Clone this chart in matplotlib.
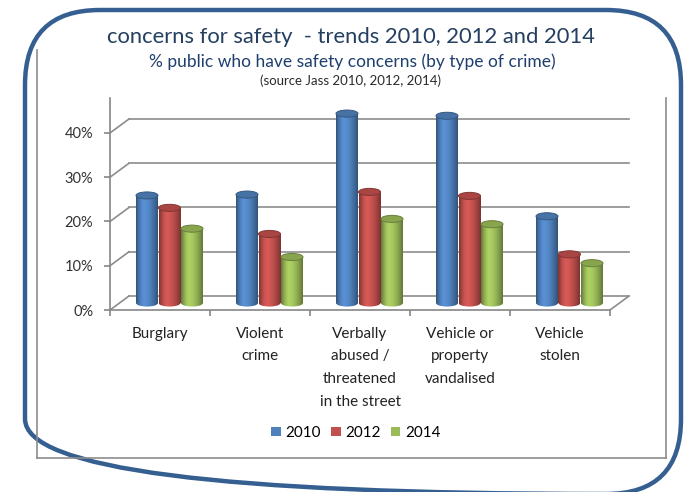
import numpy as np
import matplotlib
matplotlib.use("Agg")
import matplotlib.pyplot as plt
from matplotlib.patches import Ellipse, Patch, FancyBboxPatch

plt.rcParams['font.family'] = ['Lato', 'DejaVu Sans']

categories = ["Burglary", "Violent\ncrime", "Verbally\nabused /\nthreatened\nin the street",
              "Vehicle or\nproperty\nvandalised", "Vehicle\nstolen"]
years = ["2010", "2012", "2014"]
pct_2010 = [24.3, 24.5, 42.8, 42.3, 19.6]
pct_2012 = [21.5, 15.6, 25.1, 24.2, 11.0]
pct_2014 = [16.8, 10.4, 19.0, 17.8, 9.0]
yticks = [0, 10, 20, 30, 40]
colors = ["#4F81BD", "#C0504D", "#9BBB59"]

W, H = 684, 492
DX, DY = 0.19, 3.16      # depth offset of the back wall (x in categories, y in %)
BW = 0.22                # cylinder width
EH = 1.6                 # height of cylinder end ellipses, in %
YTOP = 47.9

fig = plt.figure(figsize=(W / 100, H / 100), dpi=100)
fig.patch.set_facecolor("white")

# full-figure axes in pixel units for the frame and titles
bg = fig.add_axes([0, 0, 1, 1])
bg.set_xlim(0, W)
bg.set_ylim(H, 0)
bg.axis("off")
frame = FancyBboxPatch((25, 10), 656, 484, boxstyle="round,pad=0,rounding_size=75",
                       fc="none", ec="#355E91", lw=3.2, clip_on=False)
bg.add_patch(frame)
gray = "#8C8C8C"
bg.plot([37, 37], [50, 458], color=gray, lw=1.2)
bg.plot([37, 666], [458, 458], color=gray, lw=1.2)
bg.plot([666, 666], [98, 458], color=gray, lw=1.2)

bg.text(351, 37, "concerns for safety  - trends 2010, 2012 and 2014", ha="center", va="center",
        fontsize=15.8, color="#243F60")
bg.text(352, 62, "% public who have safety concerns (by type of crime)", ha="center", va="center",
        fontsize=12.5, color="#1F3F6E")
bg.text(351, 81, "(source Jass 2010, 2012, 2014)", ha="center", va="center",
        fontsize=9.5, color="#2A2A2A")

ax = fig.add_axes([110 / W, (H - 310) / H, 520 / W, 212 / H])
ax.set_facecolor("none")

# back wall gridlines with their diagonals to the front axis
for v in yticks:
    ax.plot([DX, 5 + DX], [v + DY, v + DY], color=gray, lw=1.2, zorder=1)
    ax.plot([0, DX], [v, v + DY], color=gray, lw=1.2, zorder=1)
ax.plot([5, 5 + DX], [0, DY], color=gray, lw=1.2, zorder=1)


def shade(base, n=64):
    rgb = np.array(matplotlib.colors.to_rgb(base))
    t = np.linspace(0, 1, n)
    peak = 0.36
    d = np.where(t < peak, (peak - t) / peak, (t - peak) / (1 - peak))
    k = 1.12 - 0.48 * d ** 1.6
    img = np.clip(rgb[None, :] * k[:, None], 0, 1)
    return img[None, :, :]


series = [pct_2010, pct_2012, pct_2014]
x = np.arange(len(categories))
for j, (vals, c) in enumerate(zip(series, colors)):
    xc = x + 0.5 + DX / 2 + (j - 1) * 0.225
    bars = ax.bar(xc, vals, width=BW, bottom=DY / 2, color=c, lw=0, zorder=3 + j)
    grad = shade(c)
    rgb = np.array(matplotlib.colors.to_rgb(c))
    for rect in bars:
        x0, y0 = rect.get_x(), rect.get_y()
        w, h = rect.get_width(), rect.get_height()
        im = ax.imshow(grad, extent=(x0, x0 + w, y0, y0 + h), aspect="auto",
                       interpolation="bilinear", zorder=3 + j)
        im.set_clip_path(rect)
        base_ell = Ellipse((x0 + w / 2, y0), w, EH, fc="none", ec="none", zorder=3 + j)
        ax.add_patch(base_ell)
        im2 = ax.imshow(grad, extent=(x0, x0 + w, y0 - EH / 2, y0 + EH / 2), aspect="auto",
                        interpolation="bilinear", zorder=3 + j)
        im2.set_clip_path(base_ell)
        top = Ellipse((x0 + w / 2, y0 + h), w, EH, fc=rgb * 0.88, ec=rgb * 0.68,
                      lw=0.7, zorder=3.5 + j)
        ax.add_patch(top)

ax.set_xlim(0, 5 + DX + 0.01)
ax.set_ylim(0, YTOP)

for s in ["top", "right"]:
    ax.spines[s].set_visible(False)
ax.spines["left"].set_bounds(0, YTOP)
ax.spines["bottom"].set_bounds(0, 5)
for s in ["left", "bottom"]:
    ax.spines[s].set_color("#868686")
    ax.spines[s].set_linewidth(1.2)

ax.set_yticks(yticks)
ax.set_yticklabels([f"{v}%" for v in yticks])
ax.tick_params(axis="y", length=4, width=1.2, color="#868686", labelsize=10.5,
               labelcolor="#333333", pad=8)
ax.set_xticks(np.arange(6))
ax.set_xticklabels([])
ax.tick_params(axis="x", which="major", length=4, width=1.2, color="#868686")
ax.set_xticks(x + 0.5, minor=True)
ax.set_xticklabels(categories, minor=True, fontsize=11, color="#222222", linespacing=1.8,
                   va="top")
ax.tick_params(axis="x", which="minor", length=0, pad=12)

handles = [Patch(facecolor=c, edgecolor="none") for c in colors]
fig.legend(handles, years, loc="center", bbox_to_anchor=(356 / W, 1 - 433 / H), ncol=3,
           frameon=False, fontsize=11, handlelength=0.6, handleheight=0.6,
           handletextpad=0.3, columnspacing=0.7)

fig.savefig("out.png", dpi=100, facecolor="white")
